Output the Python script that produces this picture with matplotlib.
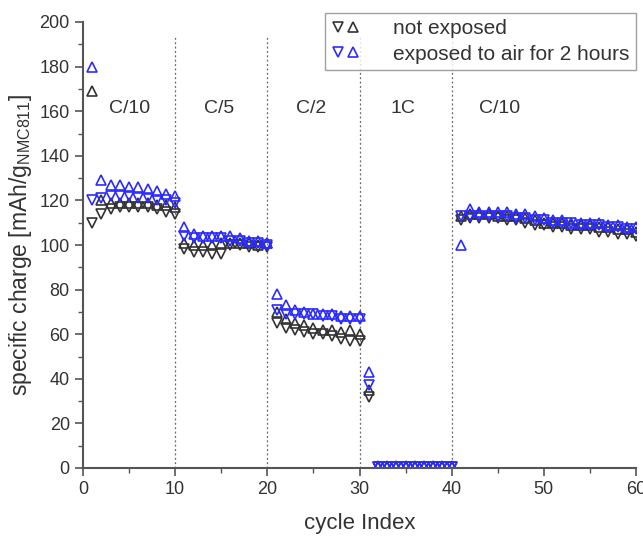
import numpy as np
import matplotlib
matplotlib.use('Agg')
import matplotlib.pyplot as plt
from matplotlib.legend_handler import HandlerTuple
from matplotlib.lines import Line2D

plt.rcParams['font.family'] = ['Liberation Sans', 'DejaVu Sans']

# --- データ ---
cycles = np.arange(1, 61)

# not exposed (black): ▽ / △
black_down = [110, 114, 116, 117, 117, 117, 117, 116, 115, 114,
              98, 97, 97, 96, 96, 100, 100, 99, 99, 99,
              65, 63, 62, 61, 60, 60, 59, 58, 57, 57,
              32, 0.5, 0.5, 0.5, 0.5, 0.5, 0.5, 0.5, 0.5, 0.5,
              111, 112, 112, 112, 112, 111, 111, 110, 109, 109,
              108, 108, 107, 107, 107, 106, 106, 105, 105, 104]
black_up = [169, 120, 119, 119, 119, 119, 119, 118, 118, 117,
            101, 100, 100, 100, 101, 101, 101, 101, 100, 101,
            70, 67, 65, 64, 63, 62, 62, 61, 62, 60,
            35, 0.5, 0.5, 0.5, 0.5, 0.5, 0.5, 0.5, 0.5, 0.5,
            113, 114, 114, 114, 113, 113, 113, 112, 111, 110,
            110, 110, 109, 109, 109, 108, 108, 107, 107, 106]

# exposed to air for 2 hours (blue): ▽ / △
blue_down = [120, 121, 122, 122, 122, 121, 121, 120, 120, 119,
             104, 103, 103, 103, 103, 102, 102, 101, 101, 100,
             71, 69, 69, 69, 69, 68, 68, 67, 67, 67,
             37, 0.5, 0.5, 0.5, 0.5, 0.5, 0.5, 0.5, 0.5, 0.5,
             113, 113, 113, 113, 113, 113, 112, 112, 111, 111,
             110, 110, 110, 109, 109, 109, 108, 108, 107, 107]
blue_up = [180, 129, 127, 127, 126, 126, 125, 124, 123, 122,
           108, 105, 104, 104, 104, 104, 103, 102, 102, 101,
           78, 73, 71, 70, 69, 69, 69, 68, 68, 68,
           43, 0.8, 0.8, 0.8, 0.8, 0.8, 0.8, 0.8, 0.8, 0.8,
           100, 116, 115, 115, 115, 115, 114, 114, 113, 112,
           111, 111, 110, 110, 110, 110, 109, 109, 108, 108]

rate_labels = ['C/10', 'C/5', 'C/2', '1C', 'C/10']
rate_x = [5.1, 14.8, 24.8, 34.7, 45.2]
rate_bounds = [10, 20, 30, 40]

BLACK = '#333333'
BLUE = '#2b2bff'
TEXT = '#333333'

fig = plt.figure(figsize=(6.43, 5.37), dpi=100)
ax = fig.add_axes([83 / 643, 1 - 468 / 537, 553 / 643, 446 / 537])

mk = dict(linestyle='none', markersize=7.5, markerfacecolor='none', markeredgewidth=1.2)
ax.plot(cycles, black_down, marker='v', color=BLACK, **mk)
ax.plot(cycles, black_up, marker='^', color=BLACK, **mk)
ax.plot(cycles, blue_down, marker='v', color=BLUE, **mk)
ax.plot(cycles, blue_up, marker='^', color=BLUE, **mk)

# レート区切り線
ax.vlines(rate_bounds, 0, 194, colors='#666666', linestyles=(0, (1.5, 2)), linewidth=0.9, zorder=0)
for lbl, xx in zip(rate_labels, rate_x):
    ax.text(xx, 161, lbl, ha='center', va='center', fontsize=14, color=TEXT)

ax.set_xlim(0, 60)
ax.set_ylim(0, 200)
ax.set_xticks(np.arange(0, 61, 10))
ax.set_xticks(np.arange(5, 60, 10), minor=True)
ax.set_yticks(np.arange(0, 201, 20))
ax.set_yticks(np.arange(10, 200, 20), minor=True)
ax.spines['top'].set_visible(False)
ax.spines['right'].set_visible(False)
for s in ['left', 'bottom']:
    ax.spines[s].set_color('#555555')
    ax.spines[s].set_linewidth(1.5)
ax.tick_params(which='major', direction='out', length=6, width=1.2, colors='#555555',
               labelcolor=TEXT, labelsize=13)
ax.tick_params(which='minor', direction='out', length=3.5, width=1.0, colors='#555555')

ax.set_xlabel('cycle Index', fontsize=16, color=TEXT, labelpad=11)
ax.set_ylabel(r'specific charge [mAh/g$_{\mathregular{NMC811}}$]', fontsize=16.5, color=TEXT, labelpad=4)

h1 = (Line2D([], [], marker='v', color=BLACK, **mk), Line2D([], [], marker='^', color=BLACK, **mk))
h2 = (Line2D([], [], marker='v', color=BLUE, **mk), Line2D([], [], marker='^', color=BLUE, **mk))
leg = ax.legend([h1, h2], ['not exposed', 'exposed to air for 2 hours'],
                handler_map={tuple: HandlerTuple(ndivide=None, pad=0.1)},
                loc='upper right', bbox_to_anchor=(1.0, 1.02), fontsize=15,
                frameon=True, fancybox=False, handlelength=1.4, borderpad=0.3,
                labelspacing=0.3, handletextpad=1.6, borderaxespad=0.0, labelcolor=TEXT)
leg.get_frame().set_edgecolor('#888888')
leg.get_frame().set_linewidth(1.0)

fig.savefig('out.png', dpi=100)
